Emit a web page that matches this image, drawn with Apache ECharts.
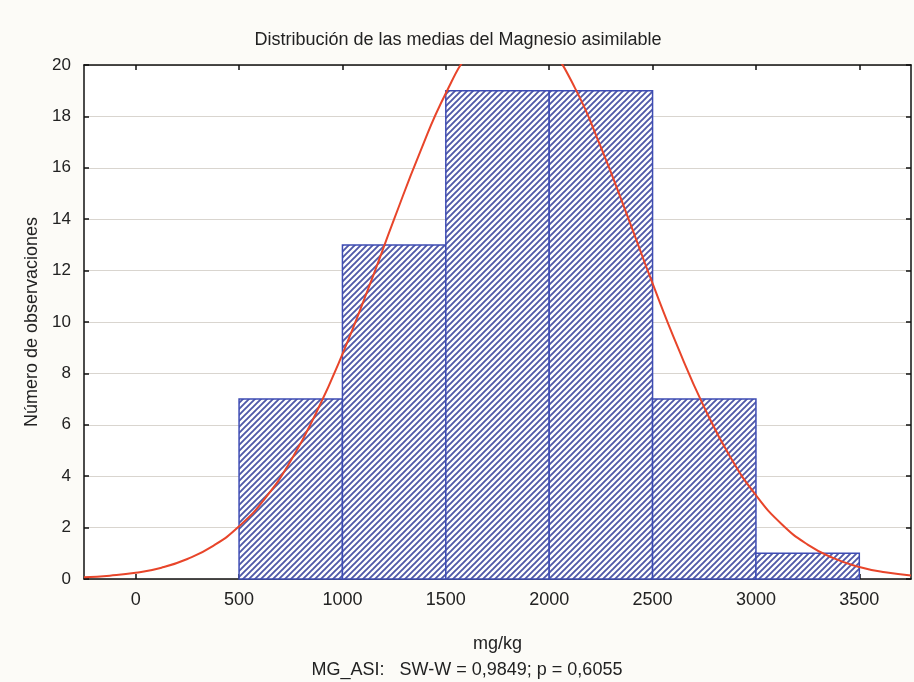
<!DOCTYPE html>
<html>
<head>
<meta charset="utf-8">
<script src="https://cdn.jsdelivr.net/npm/echarts@6/dist/echarts.min.js"></script>
<style>
  html, body { margin: 0; padding: 0; background: #fcfbf7; }
  #chart { width: 914px; height: 682px; }
</style>
</head>
<body>
<div id="chart"></div>
<script>
// ---- data ----
var binStart = [500, 1000, 1500, 2000, 2500, 3000];
var binEnd   = [1000, 1500, 2000, 2500, 3000, 3500];
var counts   = [7, 13, 19, 19, 7, 1];

var curveX = [-250, -125, 0, 125, 250, 375, 500, 625, 750, 875, 1000, 1125, 1250, 1375, 1500, 1625, 1750, 1875, 2000, 2125, 2250, 2375, 2500, 2625, 2750, 2875, 3000, 3125, 3250, 3375, 3500, 3625, 3750];
var curveY = [0.07, 0.13, 0.24, 0.44, 0.78, 1.29, 2.05, 3.13, 4.6, 6.5, 8.75, 11.3, 14.0, 16.6, 18.9, 20.6, 21.55, 21.6, 20.7, 19.1, 16.8, 14.2, 11.5, 8.96, 6.68, 4.76, 3.26, 2.13, 1.34, 0.81, 0.47, 0.26, 0.14];

var xTicks = [0, 500, 1000, 1500, 2000, 2500, 3000, 3500];
var yTicks = [0, 2, 4, 6, 8, 10, 12, 14, 16, 18, 20];

var titleText = 'Distribución de las medias del Magnesio asimilable';
var xName = 'mg/kg';
var yName = 'Número de observaciones';
var footText = 'MG_ASI:   SW-W = 0,9849; p = 0,6055';

// ---- hatch pattern ----
var T = 6;
var pc = document.createElement('canvas');
pc.width = T; pc.height = T;
var g = pc.getContext('2d');
g.fillStyle = '#ffffff';
g.fillRect(0, 0, T, T);
g.strokeStyle = '#5059a8';
g.lineWidth = 1.9;
g.beginPath();
g.moveTo(-1, T + 1); g.lineTo(T + 1, -1);
g.moveTo(-1, 1); g.lineTo(1, -1);
g.moveTo(T - 1, T + 1); g.lineTo(T + 1, T - 1);
g.stroke();

var histData = binStart.map(function (s, i) { return [s, binEnd[i], counts[i]]; });
var curveData = curveX.map(function (x, i) { return [x, curveY[i]]; });

var FONT = "'Liberation Sans', Arial, sans-serif";
var AX = { color: '#111', width: 1.5 };
var chart = echarts.init(document.getElementById('chart'), null, { renderer: 'canvas' });

chart.setOption({
  backgroundColor: '#fcfbf7',
  animation: false,
  title: [
    { text: titleText, left: 453, top: 26, textAlign: 'center',
      textStyle: { fontFamily: FONT, fontSize: 18, fontWeight: 'normal', color: '#222' } },
    { text: footText, left: 462, top: 656, textAlign: 'center',
      textStyle: { fontFamily: FONT, fontSize: 18, fontWeight: 'normal', color: '#222' } }
  ],
  grid: { left: 84, right: 3, top: 65, bottom: 103, show: true, backgroundColor: '#ffffff', borderWidth: 0 },
  xAxis: [
    { type: 'value', min: -250, max: 3750, position: 'bottom',
      name: xName, nameLocation: 'middle', nameGap: 56,
      nameTextStyle: { fontFamily: FONT, fontSize: 18, color: '#222' },
      axisLine: { show: true, onZero: false, lineStyle: AX },
      axisTick: { show: true, inside: true, length: 5, customValues: xTicks, lineStyle: AX },
      axisLabel: { show: true, customValues: xTicks, margin: 12, fontFamily: FONT, fontSize: 18, color: '#222',
        formatter: function (v) { return String(v); } },
      splitLine: { show: false } },
    { type: 'value', min: -250, max: 3750, position: 'top',
      axisLine: { show: true, onZero: false, lineStyle: AX },
      axisTick: { show: true, inside: true, length: 5, customValues: xTicks, lineStyle: AX },
      axisLabel: { show: false },
      splitLine: { show: false } }
  ],
  yAxis: [
    { type: 'value', min: 0, max: 20, interval: 2, position: 'left',
      name: yName, nameLocation: 'middle', nameGap: 40, nameRotate: 90,
      nameTextStyle: { fontFamily: FONT, fontSize: 18, color: '#222' },
      axisLine: { show: true, onZero: false, lineStyle: AX },
      axisTick: { show: true, inside: true, length: 5, lineStyle: AX },
      axisLabel: { margin: 13, fontFamily: FONT, fontSize: 17, color: '#222' },
      splitLine: { show: true, lineStyle: { color: '#d9d5cf', width: 1 } } },
    { type: 'value', min: 0, max: 20, interval: 2, position: 'right',
      axisLine: { show: true, onZero: false, lineStyle: AX },
      axisTick: { show: true, inside: true, length: 5, lineStyle: AX },
      axisLabel: { show: false },
      splitLine: { show: false } }
  ],
  series: [
    { type: 'custom', xAxisIndex: 0, yAxisIndex: 0, z: 2,
      data: histData,
      encode: { x: [0, 1], y: 2 },
      renderItem: function (params, api) {
        var p1 = api.coord([api.value(0), api.value(2)]);
        var p2 = api.coord([api.value(1), 0]);
        return {
          type: 'rect',
          shape: { x: p1[0], y: p1[1], width: p2[0] - p1[0], height: p2[1] - p1[1] },
          style: { fill: { image: pc, repeat: 'repeat' }, stroke: '#3e4cb4', lineWidth: 1.5 }
        };
      } },
    { type: 'line', xAxisIndex: 0, yAxisIndex: 0, z: 5,
      data: curveData, smooth: true, showSymbol: false, clip: true,
      lineStyle: { color: '#e8452a', width: 2 } }
  ]
});
</script>
</body>
</html>
